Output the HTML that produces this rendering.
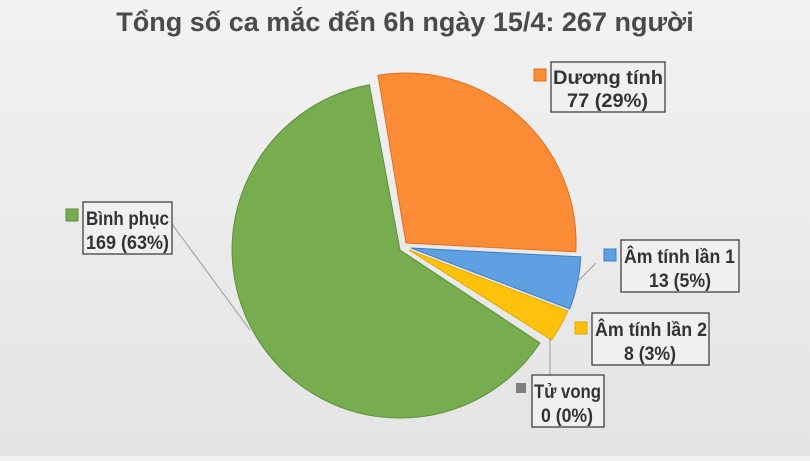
<!DOCTYPE html>
<html><head><meta charset="utf-8"><style>
body{margin:0;width:810px;height:456px;overflow:hidden;background:linear-gradient(#f2f2f2,#e4e4e4);font-family:"Liberation Sans",sans-serif}
</style></head><body>
<svg width="810" height="456" xmlns="http://www.w3.org/2000/svg">
<text x="405" y="31" text-anchor="middle" font-size="27" font-weight="bold" fill="#4a4a4a">Tổng số ca mắc đến 6h ngày 15/4: 267 người</text>
<path d="M400,250 L540,343 A168,168 0 1 1 369.4,84.8 Z" fill="#77ad4e" stroke="#5f8f3c" stroke-width="1"/>
<path d="M406,243 L378,75.4 A170,170 0 0 1 575.8,251.9 Z" fill="#fb8c36" stroke="#e07020" stroke-width="1"/>
<path d="M411,248 L580.8,256.9 A170,170 0 0 1 569.7,308.9 Z" fill="#5fa0e2" stroke="#3d7fc4" stroke-width="1"/>
<path d="M409,250 L567.7,310.9 A170,170 0 0 1 551.6,340 Z" fill="#fec20c" stroke="#e0a800" stroke-width="1"/>
<g stroke="#999" stroke-width="1" fill="none">
<line x1="172" y1="224" x2="250" y2="330"/>
<line x1="596" y1="263" x2="577" y2="282"/>
<line x1="550" y1="375" x2="550" y2="338"/>
</g>
<g fill="#f0f0f0" stroke="#333" stroke-width="1.2">
<rect x="83" y="202" width="89" height="52"/>
<rect x="551" y="62" width="114" height="50"/>
<rect x="621" y="240" width="118" height="52"/>
<rect x="592" y="313" width="117" height="52"/>
<rect x="532" y="375" width="72" height="52"/>
</g>
<rect x="66" y="209" width="12" height="12" fill="#77ad4e" stroke="#5f8f3c"/>
<rect x="534" y="69" width="12" height="12" fill="#fb8c36" stroke="#e07020"/>
<rect x="604" y="249" width="12" height="12" fill="#5fa0e2" stroke="#3d7fc4"/>
<rect x="575" y="322" width="12" height="12" fill="#fec20c" stroke="#e0a800"/>
<rect x="516" y="383" width="10" height="10" fill="#7f7f7f"/>
<g font-size="19" font-weight="bold" fill="#333" lengthAdjust="spacingAndGlyphs">
<text x="86" y="225" textLength="83" lengthAdjust="spacingAndGlyphs">Bình phục</text><text x="86" y="249" textLength="83" lengthAdjust="spacingAndGlyphs">169 (63%)</text>
<text x="553" y="84" textLength="110" lengthAdjust="spacingAndGlyphs">Dương tính</text><text x="567" y="107" textLength="81" lengthAdjust="spacingAndGlyphs">77 (29%)</text>
<text x="624" y="263" textLength="111" lengthAdjust="spacingAndGlyphs">Âm tính lần 1</text><text x="649" y="287" textLength="62" lengthAdjust="spacingAndGlyphs">13 (5%)</text>
<text x="595" y="336" textLength="112" lengthAdjust="spacingAndGlyphs">Âm tính lần 2</text><text x="624" y="360" textLength="52" lengthAdjust="spacingAndGlyphs">8 (3%)</text>
<text x="534" y="398" textLength="67" lengthAdjust="spacingAndGlyphs">Tử vong</text><text x="541" y="422" textLength="52" lengthAdjust="spacingAndGlyphs">0 (0%)</text>
</g>
</svg>
</body></html>
